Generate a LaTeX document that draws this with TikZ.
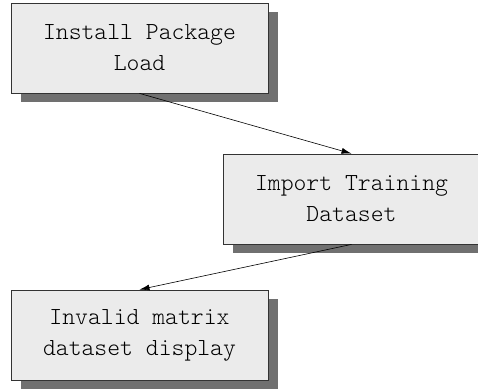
\documentclass[tikz,border=0pt]{standalone}
\usepackage{tikz}
\usetikzlibrary{shapes,shadows,arrows.meta}

\begin{document}
\begin{tikzpicture}[x=1pt,y=-1pt,
  stagebox/.style={draw=black!80, line width=0.8pt, rectangle, fill=black!8,
    minimum width=257pt, minimum height=90pt, inner sep=0pt, align=center,
    font=\ttfamily\fontseries{l}\fontsize{24.5}{31}\selectfont,
    drop shadow={shadow xshift=10pt, shadow yshift=-9pt, opacity=1, fill=black!56}},
  flow/.style={-{Latex[length=10pt,width=6pt]}, line width=0.6pt}]
 \useasboundingbox (0,0) rectangle (478,390);
 \node (installload) [stagebox] at (139.5,48) {Install Package\\Load};
 \node (importdata) [stagebox] at (351.5,199) {Import Training\\Dataset};
 \node (invaliddisplay) [stagebox] at (139.5,335) {Invalid matrix\\dataset display};

 \draw[flow] (installload.south) to (importdata.north);
 \draw[flow] (importdata.south) to (invaliddisplay.north);
\end{tikzpicture}
\end{document}
